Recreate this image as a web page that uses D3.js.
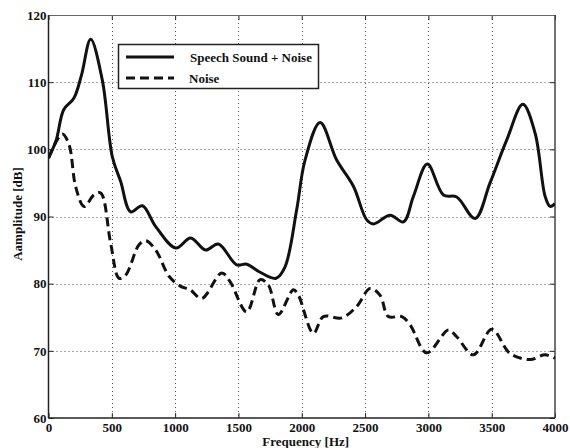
<!DOCTYPE html>
<html>
<head>
<meta charset="utf-8">
<script src="https://cdn.jsdelivr.net/npm/d3@7"></script>
<style>
  html, body { margin: 0; padding: 0; background: #fff; }
  svg { display: block; }
  text { font-family: "Liberation Serif", "Times New Roman", serif; font-weight: bold; fill: #111; }
</style>
</head>
<body>
<svg id="chart" width="570" height="448"></svg>
<script>
// Spectrum of speech sound with added noise vs. noise alone
const speechFreq = [0, 60, 120, 200, 260, 333, 425, 504, 570, 649, 741, 847, 1005, 1123, 1240, 1341, 1486, 1565, 1671, 1797, 1868, 1960, 2026, 2145, 2276, 2408, 2513, 2566, 2698, 2803, 2882, 2992, 3119, 3224, 3369, 3487, 3619, 3746, 3843, 3922, 3961, 4000];
const speechAmp  = [98.7, 101.3, 105.9, 107.6, 111.0, 116.4, 110.3, 98.9, 95.2, 90.7, 91.6, 88.5, 85.3, 86.8, 85.0, 85.9, 82.8, 82.9, 81.7, 80.8, 82.5, 91.0, 98.4, 104.0, 98.4, 94.5, 89.5, 88.9, 90.2, 89.2, 93.0, 97.8, 93.2, 92.9, 89.7, 95.0, 101.4, 106.7, 102.4, 93.0, 91.5, 91.9];

const noiseFreq = [0, 109, 162, 215, 281, 359, 412, 491, 557, 610, 715, 768, 847, 952, 1044, 1118, 1210, 1368, 1434, 1565, 1671, 1736, 1815, 1934, 1973, 2092, 2171, 2316, 2434, 2540, 2618, 2684, 2790, 2855, 2987, 3158, 3224, 3356, 3501, 3645, 3803, 3922, 4000];
const noiseAmp  = [98.7, 102.3, 100.7, 94.4, 91.5, 93.2, 93.5, 86.0, 80.8, 81.3, 85.8, 86.4, 85.0, 81.1, 79.6, 79.1, 77.8, 81.6, 80.3, 75.8, 80.6, 79.8, 75.4, 79.1, 78.3, 72.6, 75.1, 74.9, 76.6, 79.3, 78.3, 75.1, 75.1, 73.9, 69.7, 73.1, 72.1, 69.4, 73.2, 69.6, 68.7, 69.4, 68.9];

const xTicks = [0, 500, 1000, 1500, 2000, 2500, 3000, 3500, 4000];
const yTicks = [60, 70, 80, 90, 100, 110, 120];

const seriesNames = ["Speech Sound + Noise", "Noise"];
const xTitle = "Frequency [Hz]";
const yTitle = "Aamplitude [dB]";

const svg = d3.select("#chart");
const plotL = 48.5, plotR = 555, plotT = 15, plotB = 418;

const x = d3.scaleLinear().domain([0, 4000]).range([plotL, plotR]);
const y = d3.scaleLinear().domain([60, 120]).range([plotB, plotT]);

// dotted grid
const grid = svg.append("g").attr("stroke", "#555").attr("stroke-width", 1).attr("stroke-dasharray", "1,3");
grid.selectAll("line.v").data(xTicks.slice(1, -1)).join("line")
  .attr("x1", d => Math.round(x(d)) + 0.5).attr("x2", d => Math.round(x(d)) + 0.5)
  .attr("y1", plotT).attr("y2", plotB);
grid.selectAll("line.h").data(yTicks.slice(1, -1)).join("line")
  .attr("y1", d => Math.round(y(d)) + 0.5).attr("y2", d => Math.round(y(d)) + 0.5)
  .attr("x1", plotL).attr("x2", plotR);

// axes with inward ticks
const xAxis = svg.append("g").attr("transform", `translate(0,${plotB})`)
  .call(d3.axisBottom(x).tickValues(xTicks).tickSize(-5).tickPadding(5).tickFormat(d3.format("d")));
const yAxis = svg.append("g").attr("transform", `translate(${plotL},0)`)
  .call(d3.axisLeft(y).tickValues(yTicks).tickSize(-5).tickPadding(2).tickFormat(d3.format("d")));
const xAxisTop = svg.append("g").attr("transform", `translate(0,${plotT})`)
  .call(d3.axisTop(x).tickValues(xTicks).tickSize(-5).tickFormat(""));
const yAxisRight = svg.append("g").attr("transform", `translate(${plotR},0)`)
  .call(d3.axisRight(y).tickValues(yTicks).tickSize(-5).tickFormat(""));

[xAxis, yAxis, xAxisTop, yAxisRight].forEach(g => {
  g.select(".domain").remove();
  g.selectAll(".tick line").attr("stroke", "#222");
  g.selectAll("text").attr("font-size", 13).attr("font-family", "Liberation Serif, serif").attr("font-weight", "bold").attr("fill", "#111");
});

// axes box
svg.append("line").attr("x1", plotL).attr("x2", plotR).attr("y1", plotT + 0.5).attr("y2", plotT + 0.5).attr("stroke", "#666").attr("stroke-width", 1.2);
svg.append("line").attr("x1", plotL).attr("x2", plotR).attr("y1", plotB).attr("y2", plotB).attr("stroke", "#222").attr("stroke-width", 1.5);
svg.append("line").attr("x1", plotL).attr("x2", plotL).attr("y1", plotT).attr("y2", plotB).attr("stroke", "#222").attr("stroke-width", 1.5);
svg.append("line").attr("x1", plotR).attr("x2", plotR).attr("y1", plotT).attr("y2", plotB).attr("stroke", "#444").attr("stroke-width", 1.5);

// curves
const line = d3.line().curve(d3.curveCatmullRom.alpha(0.5)).x(d => x(d[0])).y(d => y(d[1]));
svg.append("clipPath").attr("id", "plotclip").append("rect")
  .attr("x", plotL).attr("y", plotT).attr("width", plotR - plotL).attr("height", plotB - plotT);

svg.append("path").datum(noiseFreq.map((f, i) => [f, noiseAmp[i]]))
  .attr("d", line).attr("fill", "none").attr("stroke", "#111").attr("stroke-width", 3)
  .attr("stroke-dasharray", "9,5").attr("clip-path", "url(#plotclip)");
svg.append("path").datum(speechFreq.map((f, i) => [f, speechAmp[i]]))
  .attr("d", line).attr("fill", "none").attr("stroke", "#111").attr("stroke-width", 3)
  .attr("stroke-linejoin", "round").attr("clip-path", "url(#plotclip)");

// legend
const lg = svg.append("g");
lg.append("rect").attr("x", 118.5).attr("y", 44.5).attr("width", 200).attr("height", 44)
  .attr("fill", "#fff").attr("stroke", "#222").attr("stroke-width", 1.5);
lg.append("line").attr("x1", 126).attr("x2", 174).attr("y1", 57).attr("y2", 57)
  .attr("stroke", "#111").attr("stroke-width", 3);
lg.append("line").attr("x1", 126).attr("x2", 174).attr("y1", 78).attr("y2", 78)
  .attr("stroke", "#111").attr("stroke-width", 3).attr("stroke-dasharray", "9,5");
lg.append("text").attr("x", 190).attr("y", 62).attr("font-size", 13).text(seriesNames[0]);
lg.append("text").attr("x", 189).attr("y", 83).attr("font-size", 13).text(seriesNames[1]);

// axis titles
svg.append("text").attr("x", (plotL + plotR) / 2 + 4).attr("y", 446).attr("text-anchor", "middle")
  .attr("font-size", 13).text(xTitle);
svg.append("text").attr("transform", "translate(22,214) rotate(-90)").attr("text-anchor", "middle")
  .attr("font-size", 13).text(yTitle);
</script>
</body>
</html>
